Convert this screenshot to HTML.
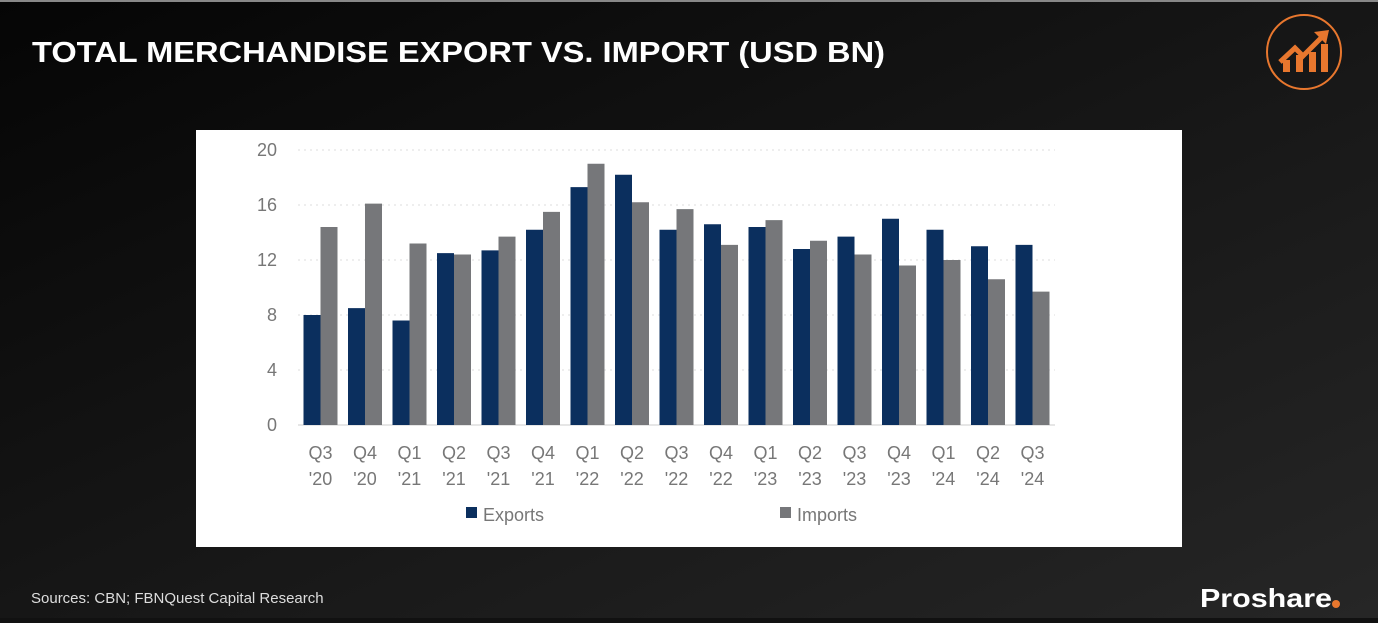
<!DOCTYPE html>
<html><head><meta charset="utf-8"><style>
body{margin:0;width:1378px;height:618px;overflow:hidden;background:#111;font-family:"Liberation Sans",sans-serif}
</style></head><body>
<svg width="1378" height="618" xmlns="http://www.w3.org/2000/svg">
<defs>
<linearGradient id="bg" x1="0" y1="0" x2="1" y2="1">
<stop offset="0" stop-color="#050505"/><stop offset="0.5" stop-color="#161616"/><stop offset="1" stop-color="#262626"/>
</linearGradient>
</defs>
<rect width="1378" height="618" fill="url(#bg)"/>
<rect x="0" y="0" width="1378" height="2" fill="#888"/>
<text x="32" y="62" fill="#fff" font-size="29" font-weight="bold" textLength="853" lengthAdjust="spacingAndGlyphs">TOTAL MERCHANDISE EXPORT VS. IMPORT (USD BN)</text>
<circle cx="1304" cy="52" r="37" fill="none" stroke="#e8772e" stroke-width="2"/>
<g fill="#e8772e">
<rect x="1283" y="60" width="7" height="12"/><rect x="1296" y="55" width="7" height="17"/><rect x="1309" y="52" width="7" height="20"/><rect x="1321" y="44" width="7" height="28"/>
</g>
<polyline points="1280,62 1295,48 1303,56 1323,36" fill="none" stroke="#e8772e" stroke-width="5"/>
<polygon points="1314,32 1329,30 1326,44" fill="#e8772e"/>
<rect x="196" y="130" width="986" height="417" fill="#fff"/>
<g stroke="#ddd" stroke-dasharray="2,4" stroke-width="1">
<line x1="298" y1="150" x2="1055" y2="150"/><line x1="298" y1="205" x2="1055" y2="205"/><line x1="298" y1="260" x2="1055" y2="260"/><line x1="298" y1="315" x2="1055" y2="315"/><line x1="298" y1="370" x2="1055" y2="370"/>
</g>
<line x1="298" y1="425" x2="1055" y2="425" stroke="#ccc"/>
<g fill="#777" font-size="18" text-anchor="end">
<text x="277" y="156">20</text><text x="277" y="211">16</text><text x="277" y="266">12</text><text x="277" y="321">8</text><text x="277" y="376">4</text><text x="277" y="431">0</text>
</g>
<g id="bars"></g>
<g id="labels" fill="#777" font-size="18" text-anchor="middle"></g>
<rect x="466" y="507" width="11" height="11" fill="#0b2f5e"/>
<text x="483" y="521" fill="#777" font-size="18">Exports</text>
<rect x="780" y="507" width="11" height="11" fill="#76777a"/>
<text x="797" y="521" fill="#777" font-size="18">Imports</text>
<text x="31" y="603" fill="#ddd" font-size="15">Sources: CBN; FBNQuest Capital Research</text>
<text x="1200" y="607" fill="#fff" font-size="26" font-weight="bold" textLength="132" lengthAdjust="spacingAndGlyphs">Proshare</text>
<circle cx="1336" cy="604" r="4" fill="#e8772e"/>
</svg>
<script>
var ex=[8.0,8.5,7.6,12.5,12.7,14.2,17.3,18.2,14.2,14.6,14.4,12.8,13.7,15.0,14.2,13.0,13.1];
var im=[14.4,16.1,13.2,12.4,13.7,15.5,19.0,16.2,15.7,13.1,14.9,13.4,12.4,11.6,12.0,10.6,9.7];
var q=["Q3","Q4","Q1","Q2","Q3","Q4","Q1","Q2","Q3","Q4","Q1","Q2","Q3","Q4","Q1","Q2","Q3"];
var y=["'20","'20","'21","'21","'21","'21","'22","'22","'22","'22","'23","'23","'23","'23","'24","'24","'24"];
var ns="http://www.w3.org/2000/svg",b=document.getElementById('bars'),l=document.getElementById('labels');
function r(x,v,c){var e=document.createElementNS(ns,'rect');var h=v*13.75;e.setAttribute('x',x);e.setAttribute('y',425-h);e.setAttribute('width',17);e.setAttribute('height',h);e.setAttribute('fill',c);b.appendChild(e);}
function t(x,yy,s){var e=document.createElementNS(ns,'text');e.setAttribute('x',x);e.setAttribute('y',yy);e.textContent=s;l.appendChild(e);}
for(var i=0;i<17;i++){var c=320.5+i*44.5;r(c-17,ex[i],'#0b2f5e');r(c,im[i],'#76777a');t(c,459,q[i]);t(c,485,y[i]);}
</script>
</body></html>
